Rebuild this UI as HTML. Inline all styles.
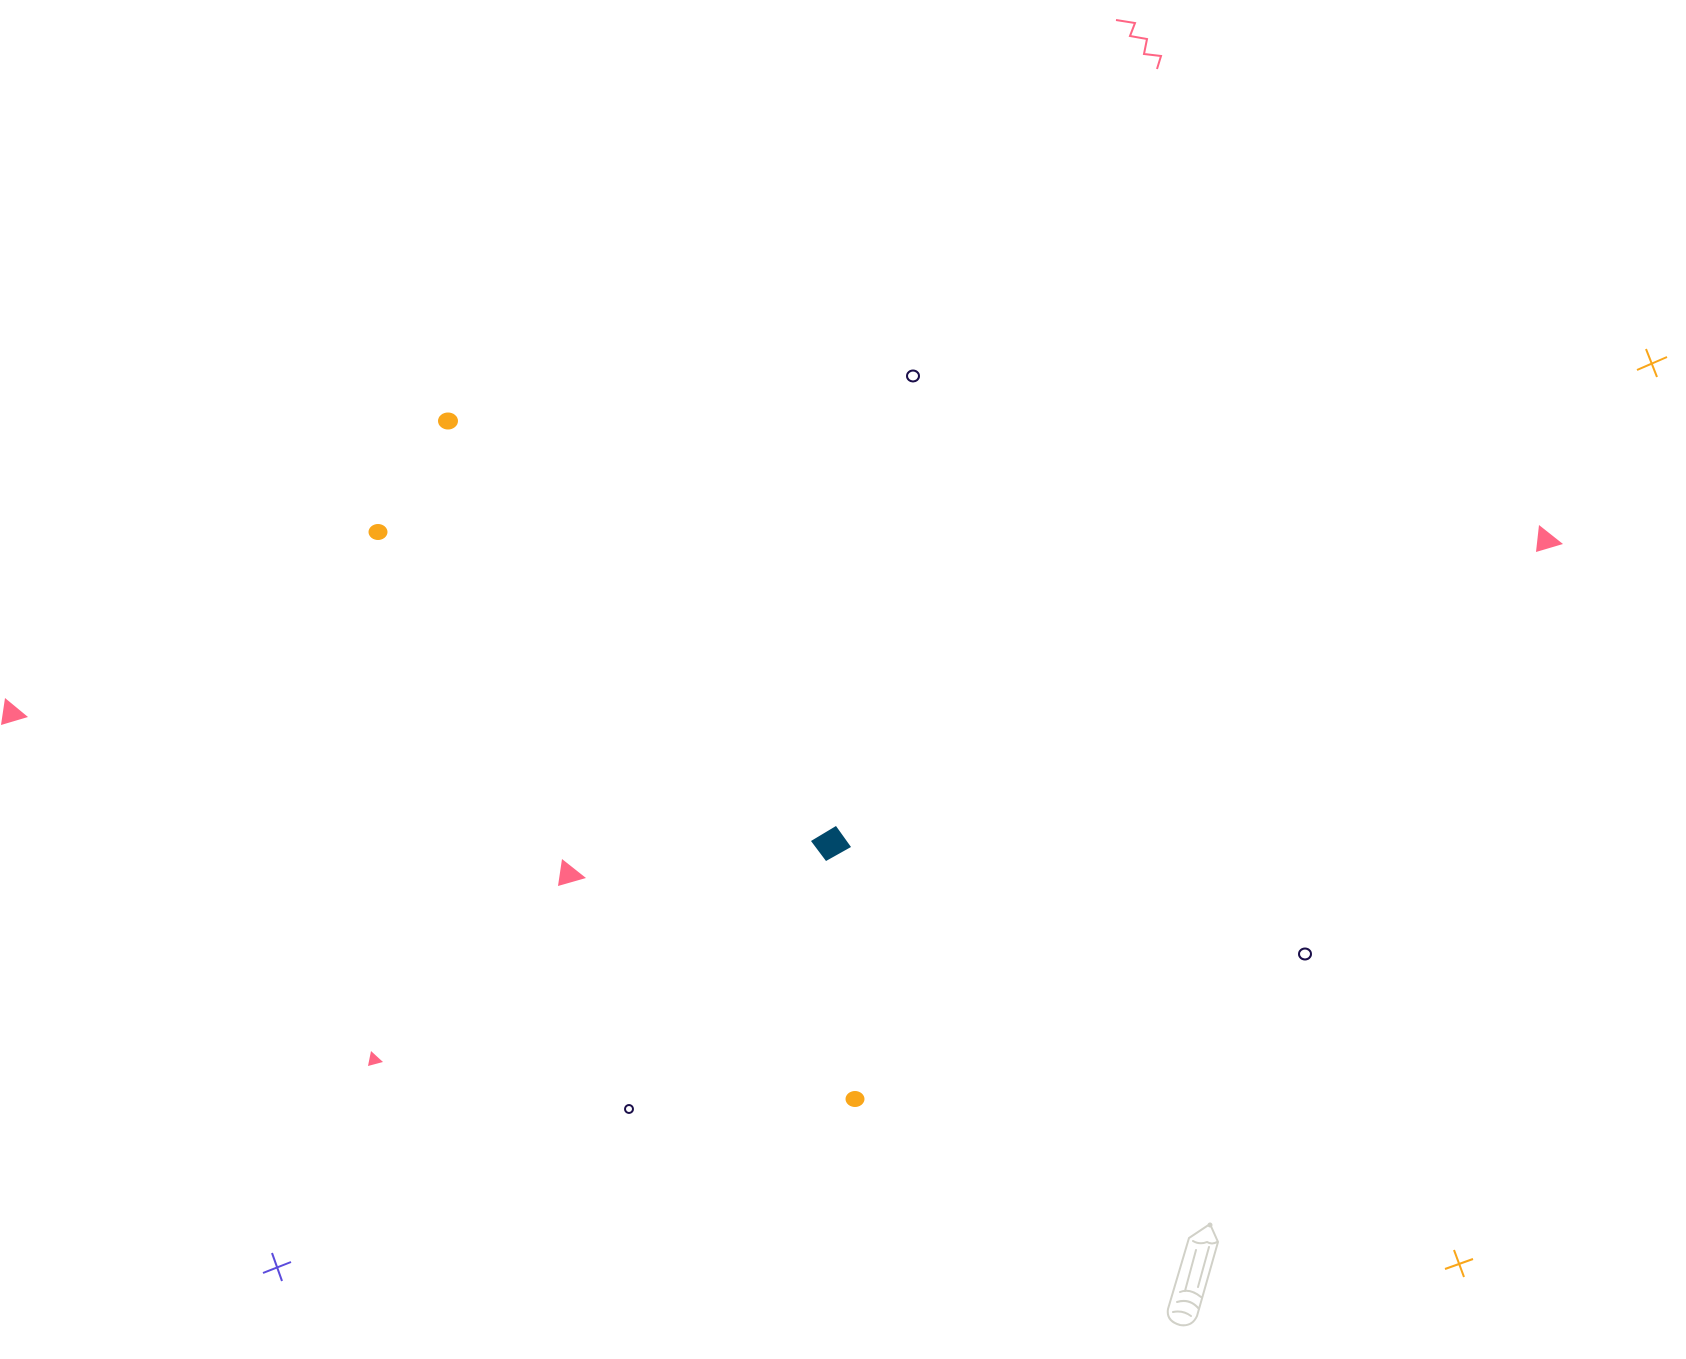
<!DOCTYPE html>
<html><head><meta charset="utf-8"><style>html,body{margin:0;padding:0;background:#fff}svg{display:block}</style></head>
<body>
<svg width="1686" height="1359" viewBox="0 0 1686 1359" xmlns="http://www.w3.org/2000/svg">
<polyline points="1116,20 1135,23 1130,36 1147,39 1144,54 1161,56 1157,69" fill="none" stroke="#ff6584" stroke-width="2"/>
<g stroke="#f9a61a" stroke-width="2"><line x1="1637" y1="370" x2="1667" y2="357"/><line x1="1646" y1="349" x2="1657" y2="377"/></g>
<g stroke="#f9a61a" stroke-width="2"><line x1="1445" y1="1269" x2="1473" y2="1259"/><line x1="1454" y1="1250" x2="1464" y2="1277"/></g>
<g stroke="#5b4bdc" stroke-width="2"><line x1="263" y1="1273" x2="291" y2="1262"/><line x1="272" y1="1253" x2="282" y2="1281"/></g>
<ellipse cx="913" cy="376" rx="6" ry="5.5" fill="none" stroke="#1b0f4a" stroke-width="2"/>
<ellipse cx="1305" cy="954" rx="6" ry="5.5" fill="none" stroke="#1b0f4a" stroke-width="2"/>
<ellipse cx="629" cy="1109" rx="4" ry="4" fill="none" stroke="#1b0f4a" stroke-width="2"/>
<ellipse cx="448" cy="421" rx="10" ry="8.5" fill="#f9a61a"/>
<ellipse cx="378" cy="532" rx="9.5" ry="8" fill="#f9a61a"/>
<ellipse cx="855" cy="1099" rx="9.5" ry="8" fill="#f9a61a"/>
<polygon points="1539,525 1563,544 1536,552" fill="#ff6584"/>
<polygon points="5,698 28,717 1,725" fill="#ff6584"/>
<polygon points="562,859 586,878 558,886" fill="#ff6584"/>
<polygon points="371,1051 383,1062 368,1066" fill="#ff6584"/>
<polygon points="811,841 836,826 851,847 826,861" fill="#00486a"/>
<g fill="none" stroke="#d1d1c8" stroke-width="2" stroke-linecap="round">
<path d="M1210,1224 L1218,1242 L1197,1316 Q1192,1327 1180,1325 Q1166,1321 1168,1309 L1189,1238 Z"/>
<path d="M1193,1241 Q1200,1245 1207,1242 Q1212,1245 1217,1242"/>
<path d="M1196,1250 L1185,1291"/><path d="M1209,1247 L1198,1287"/>
<path d="M1180,1292 Q1190,1288 1201,1297"/><path d="M1177,1302 Q1190,1298 1199,1309"/>
<path d="M1173,1312 Q1183,1310 1191,1316"/>
</g>
<circle cx="1210" cy="1225" r="2.5" fill="#d1d1c8"/>
</svg>
</body></html>
